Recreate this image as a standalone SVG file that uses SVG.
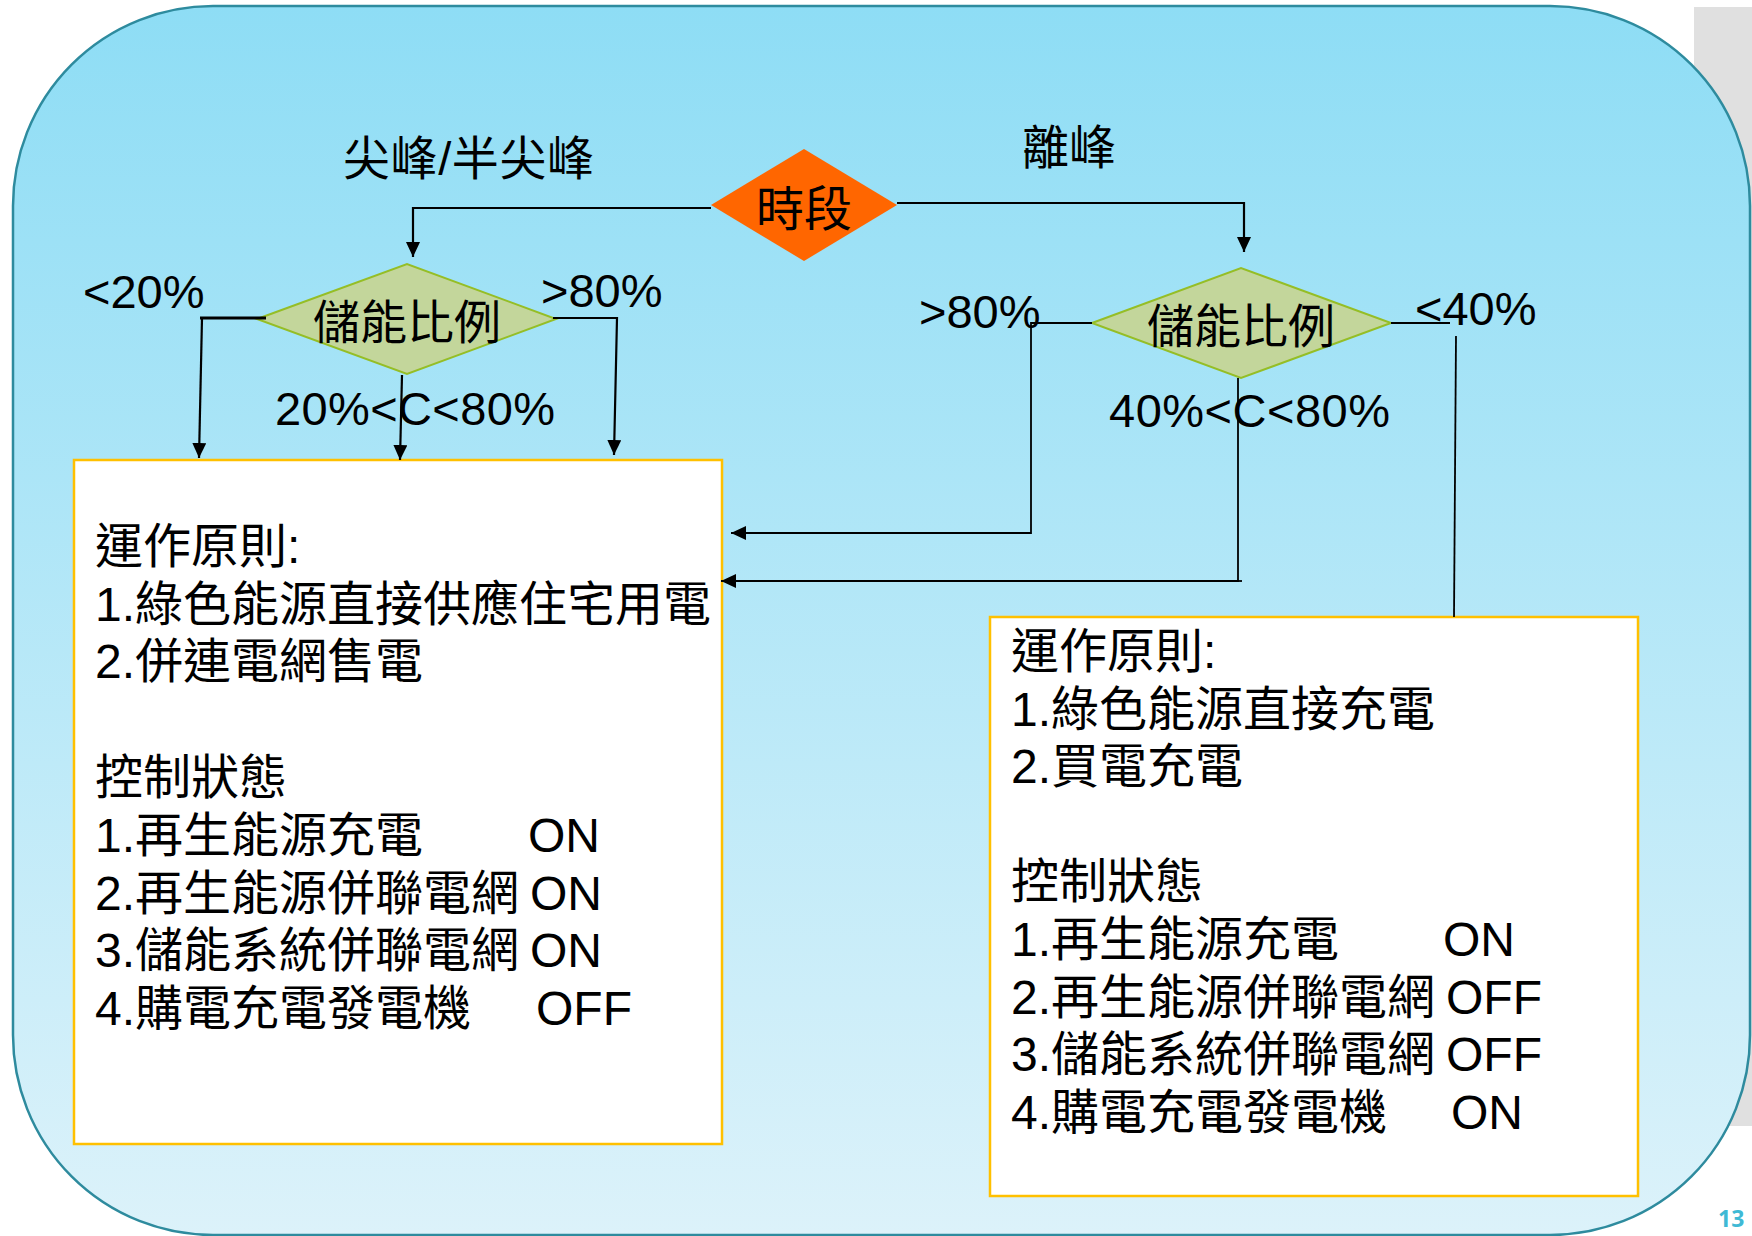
<svg xmlns="http://www.w3.org/2000/svg" width="1752" height="1236" viewBox="0 0 1752 1236">
<defs>
<linearGradient id="bgGrad" x1="0" y1="0" x2="0" y2="1">
<stop offset="0" stop-color="#8EDDF5"/>
<stop offset="1" stop-color="#DCF2FA"/>
</linearGradient>
<marker id="arrow" markerUnits="userSpaceOnUse" markerWidth="16" markerHeight="14" refX="15" refY="7" orient="auto">
<path d="M0,0 L15,7 L0,14 z" fill="#000"/>
</marker>
<style>
.t{font-family:"Liberation Sans","Noto Sans CJK TC",sans-serif;fill:#000;}
.box{fill:#fff;stroke:#FFC000;stroke-width:2.5;}
.dia{fill:#C3D69B;stroke:#95BE26;stroke-width:2;}
.conn{fill:none;stroke:#000;stroke-width:2.2;}
.thin{fill:none;stroke:#000;stroke-width:1.8;}
.lbl{font-size:47px;}
.body{font-size:48px;}
</style>
</defs>
<rect x="1694" y="7" width="70" height="1119" fill="#E0E0E0"/>
<rect id="background" x="13" y="6" width="1737" height="1229" rx="200" ry="200" fill="url(#bgGrad)" stroke="#2E8B9E" stroke-width="2.5"/>

<g id="edge-labels">
<text class="t lbl" x="343" y="175" textLength="251" lengthAdjust="spacing" font-size="48">尖峰/半尖峰</text>
<text class="t lbl" x="1022" y="164" font-size="48">離峰</text>
<text class="t lbl" x="83" y="308">&lt;20%</text>
<text class="t lbl" x="541" y="307">&gt;80%</text>
<text class="t lbl" x="275" y="425" textLength="280" lengthAdjust="spacing">20%&lt;C&lt;80%</text>
<text class="t lbl" x="919" y="328">&gt;80%</text>
<text class="t lbl" x="1415" y="325">&lt;40%</text>
<text class="t lbl" x="1109" y="427" textLength="281" lengthAdjust="spacing">40%&lt;C&lt;80%</text>
</g>

<g id="node-shiduan">
<polygon points="711,205 804,149 897,205 804,261" fill="#FF6600"/>
<text class="t" x="804" y="226" font-size="48" text-anchor="middle">時段</text>
</g>

<g id="node-ratio-left">
<polygon class="dia" points="257,319 407,264 556,319 407,374"/>
<text class="t" x="407" y="339" font-size="47" text-anchor="middle">儲能比例</text>
</g>

<g id="node-ratio-right">
<polygon class="dia" points="1092,323 1241,268 1391,323 1241,378"/>
<text class="t" x="1241" y="343" font-size="47" text-anchor="middle">儲能比例</text>
</g>

<g id="node-box-left">
<rect class="box" x="74" y="460" width="648" height="684"/>
<text class="t body" x="95" y="563">運作原則:</text>
<text class="t body" x="95" y="621">1.綠色能源直接供應住宅用電</text>
<text class="t body" x="95" y="678">2.併連電網售電</text>
<text class="t body" x="95" y="794">控制狀態</text>
<text class="t body" x="95" y="852">1.再生能源充電</text>
<text class="t body" x="528" y="852">ON</text>
<text class="t body" x="95" y="910">2.再生能源併聯電網</text>
<text class="t body" x="530" y="910">ON</text>
<text class="t body" x="95" y="967">3.儲能系統併聯電網</text>
<text class="t body" x="530" y="967">ON</text>
<text class="t body" x="95" y="1025">4.購電充電發電機</text>
<text class="t body" x="536" y="1025">OFF</text>
</g>

<g id="node-box-right">
<rect class="box" x="990" y="617" width="648" height="579"/>
<text class="t body" x="1011" y="668">運作原則:</text>
<text class="t body" x="1011" y="726">1.綠色能源直接充電</text>
<text class="t body" x="1011" y="783">2.買電充電</text>
<text class="t body" x="1011" y="898">控制狀態</text>
<text class="t body" x="1011" y="956">1.再生能源充電</text>
<text class="t body" x="1443" y="956">ON</text>
<text class="t body" x="1011" y="1014">2.再生能源併聯電網</text>
<text class="t body" x="1446" y="1014">OFF</text>
<text class="t body" x="1011" y="1071">3.儲能系統併聯電網</text>
<text class="t body" x="1446" y="1071">OFF</text>
<text class="t body" x="1011" y="1129">4.購電充電發電機</text>
<text class="t body" x="1451" y="1129">ON</text>
</g>

<g id="connectors">
<polyline class="conn" points="711,208 413,208 413,257" marker-end="url(#arrow)"/>
<polyline class="conn" points="897,203 1244,203 1244,252" marker-end="url(#arrow)"/>
<line x1="266" y1="318" x2="200" y2="318" stroke="#000" stroke-width="3.2"/>
<line class="conn" x1="202" y1="318" x2="199" y2="458" marker-end="url(#arrow)"/>
<line class="conn" x1="402" y1="375" x2="400" y2="460" marker-end="url(#arrow)"/>
<polyline class="conn" points="553,318 617,318 614,455" marker-end="url(#arrow)"/>
<polyline class="thin" points="1092,323 1031,323 1031,533 731,533" marker-end="url(#arrow)"/>
<polyline class="thin" points="1238,378 1238,581 721,581" marker-end="url(#arrow)"/>
<line class="thin" x1="1238" y1="581" x2="1242" y2="581"/>
<line class="thin" x1="1391" y1="323" x2="1450" y2="323"/>
<line class="thin" x1="1456" y1="336" x2="1454" y2="617"/>
</g>

<text x="1718" y="1227" font-family="'Open Sans','Liberation Sans',sans-serif" font-weight="bold" font-size="23" fill="#3FB9D5">13</text>
</svg>
